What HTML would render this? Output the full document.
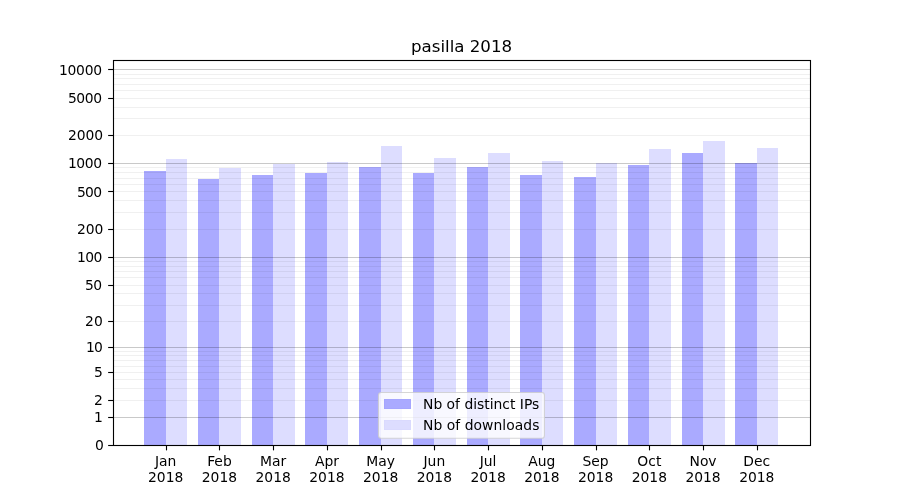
<!DOCTYPE html>
<html><head><meta charset="utf-8"><title>pasilla 2018</title>
<style>html,body{margin:0;padding:0;background:#fff;overflow:hidden}svg{display:block}</style></head>
<body>
<svg width="900" height="500" viewBox="0 0 900 500" font-family="DejaVu Sans, Liberation Sans, sans-serif">
<rect x="0" y="0" width="900" height="500" fill="#fff"/>
<rect x="144.00" y="171.00" width="22.00" height="274.00" fill="#0000ff" fill-opacity="0.335"/>
<rect x="166.00" y="159.00" width="21.00" height="286.00" fill="#0000ff" fill-opacity="0.135"/>
<rect x="198.00" y="179.00" width="21.00" height="266.00" fill="#0000ff" fill-opacity="0.335"/>
<rect x="219.00" y="168.00" width="22.00" height="277.00" fill="#0000ff" fill-opacity="0.135"/>
<rect x="252.00" y="175.00" width="21.00" height="270.00" fill="#0000ff" fill-opacity="0.335"/>
<rect x="273.00" y="164.00" width="22.00" height="281.00" fill="#0000ff" fill-opacity="0.135"/>
<rect x="305.00" y="173.00" width="22.00" height="272.00" fill="#0000ff" fill-opacity="0.335"/>
<rect x="327.00" y="162.00" width="21.00" height="283.00" fill="#0000ff" fill-opacity="0.135"/>
<rect x="359.00" y="167.00" width="22.00" height="278.00" fill="#0000ff" fill-opacity="0.335"/>
<rect x="381.00" y="146.00" width="21.00" height="299.00" fill="#0000ff" fill-opacity="0.135"/>
<rect x="413.00" y="173.00" width="21.00" height="272.00" fill="#0000ff" fill-opacity="0.335"/>
<rect x="434.00" y="158.00" width="22.00" height="287.00" fill="#0000ff" fill-opacity="0.135"/>
<rect x="467.00" y="167.00" width="21.00" height="278.00" fill="#0000ff" fill-opacity="0.335"/>
<rect x="488.00" y="153.00" width="22.00" height="292.00" fill="#0000ff" fill-opacity="0.135"/>
<rect x="520.00" y="175.00" width="22.00" height="270.00" fill="#0000ff" fill-opacity="0.335"/>
<rect x="542.00" y="161.00" width="21.00" height="284.00" fill="#0000ff" fill-opacity="0.135"/>
<rect x="574.00" y="177.00" width="22.00" height="268.00" fill="#0000ff" fill-opacity="0.335"/>
<rect x="596.00" y="163.00" width="21.00" height="282.00" fill="#0000ff" fill-opacity="0.135"/>
<rect x="628.00" y="165.00" width="21.00" height="280.00" fill="#0000ff" fill-opacity="0.335"/>
<rect x="649.00" y="149.00" width="22.00" height="296.00" fill="#0000ff" fill-opacity="0.135"/>
<rect x="682.00" y="153.00" width="21.00" height="292.00" fill="#0000ff" fill-opacity="0.335"/>
<rect x="703.00" y="141.00" width="22.00" height="304.00" fill="#0000ff" fill-opacity="0.135"/>
<rect x="735.00" y="163.00" width="22.00" height="282.00" fill="#0000ff" fill-opacity="0.335"/>
<rect x="757.00" y="148.00" width="21.00" height="297.00" fill="#0000ff" fill-opacity="0.135"/>
<line x1="113.5" x2="810.0" y1="400.50" y2="400.50" stroke="#000" stroke-opacity="0.06" stroke-width="1.1"/>
<line x1="113.5" x2="810.0" y1="388.50" y2="388.50" stroke="#000" stroke-opacity="0.06" stroke-width="1.1"/>
<line x1="113.5" x2="810.0" y1="379.50" y2="379.50" stroke="#000" stroke-opacity="0.06" stroke-width="1.1"/>
<line x1="113.5" x2="810.0" y1="372.50" y2="372.50" stroke="#000" stroke-opacity="0.06" stroke-width="1.1"/>
<line x1="113.5" x2="810.0" y1="366.50" y2="366.50" stroke="#000" stroke-opacity="0.06" stroke-width="1.1"/>
<line x1="113.5" x2="810.0" y1="360.50" y2="360.50" stroke="#000" stroke-opacity="0.06" stroke-width="1.1"/>
<line x1="113.5" x2="810.0" y1="355.50" y2="355.50" stroke="#000" stroke-opacity="0.06" stroke-width="1.1"/>
<line x1="113.5" x2="810.0" y1="351.50" y2="351.50" stroke="#000" stroke-opacity="0.06" stroke-width="1.1"/>
<line x1="113.5" x2="810.0" y1="321.50" y2="321.50" stroke="#000" stroke-opacity="0.06" stroke-width="1.1"/>
<line x1="113.5" x2="810.0" y1="305.50" y2="305.50" stroke="#000" stroke-opacity="0.06" stroke-width="1.1"/>
<line x1="113.5" x2="810.0" y1="293.50" y2="293.50" stroke="#000" stroke-opacity="0.06" stroke-width="1.1"/>
<line x1="113.5" x2="810.0" y1="285.50" y2="285.50" stroke="#000" stroke-opacity="0.06" stroke-width="1.1"/>
<line x1="113.5" x2="810.0" y1="277.50" y2="277.50" stroke="#000" stroke-opacity="0.06" stroke-width="1.1"/>
<line x1="113.5" x2="810.0" y1="271.50" y2="271.50" stroke="#000" stroke-opacity="0.06" stroke-width="1.1"/>
<line x1="113.5" x2="810.0" y1="266.50" y2="266.50" stroke="#000" stroke-opacity="0.06" stroke-width="1.1"/>
<line x1="113.5" x2="810.0" y1="261.50" y2="261.50" stroke="#000" stroke-opacity="0.06" stroke-width="1.1"/>
<line x1="113.5" x2="810.0" y1="229.50" y2="229.50" stroke="#000" stroke-opacity="0.06" stroke-width="1.1"/>
<line x1="113.5" x2="810.0" y1="212.50" y2="212.50" stroke="#000" stroke-opacity="0.06" stroke-width="1.1"/>
<line x1="113.5" x2="810.0" y1="200.50" y2="200.50" stroke="#000" stroke-opacity="0.06" stroke-width="1.1"/>
<line x1="113.5" x2="810.0" y1="191.50" y2="191.50" stroke="#000" stroke-opacity="0.06" stroke-width="1.1"/>
<line x1="113.5" x2="810.0" y1="184.50" y2="184.50" stroke="#000" stroke-opacity="0.06" stroke-width="1.1"/>
<line x1="113.5" x2="810.0" y1="178.50" y2="178.50" stroke="#000" stroke-opacity="0.06" stroke-width="1.1"/>
<line x1="113.5" x2="810.0" y1="172.50" y2="172.50" stroke="#000" stroke-opacity="0.06" stroke-width="1.1"/>
<line x1="113.5" x2="810.0" y1="167.50" y2="167.50" stroke="#000" stroke-opacity="0.06" stroke-width="1.1"/>
<line x1="113.5" x2="810.0" y1="135.50" y2="135.50" stroke="#000" stroke-opacity="0.06" stroke-width="1.1"/>
<line x1="113.5" x2="810.0" y1="118.50" y2="118.50" stroke="#000" stroke-opacity="0.06" stroke-width="1.1"/>
<line x1="113.5" x2="810.0" y1="107.50" y2="107.50" stroke="#000" stroke-opacity="0.06" stroke-width="1.1"/>
<line x1="113.5" x2="810.0" y1="98.50" y2="98.50" stroke="#000" stroke-opacity="0.06" stroke-width="1.1"/>
<line x1="113.5" x2="810.0" y1="90.50" y2="90.50" stroke="#000" stroke-opacity="0.06" stroke-width="1.1"/>
<line x1="113.5" x2="810.0" y1="84.50" y2="84.50" stroke="#000" stroke-opacity="0.06" stroke-width="1.1"/>
<line x1="113.5" x2="810.0" y1="78.50" y2="78.50" stroke="#000" stroke-opacity="0.06" stroke-width="1.1"/>
<line x1="113.5" x2="810.0" y1="74.50" y2="74.50" stroke="#000" stroke-opacity="0.06" stroke-width="1.1"/>
<line x1="113.5" x2="810.0" y1="417.50" y2="417.50" stroke="#000" stroke-opacity="0.21" stroke-width="1.1"/>
<line x1="113.5" x2="810.0" y1="347.50" y2="347.50" stroke="#000" stroke-opacity="0.21" stroke-width="1.1"/>
<line x1="113.5" x2="810.0" y1="257.50" y2="257.50" stroke="#000" stroke-opacity="0.21" stroke-width="1.1"/>
<line x1="113.5" x2="810.0" y1="163.50" y2="163.50" stroke="#000" stroke-opacity="0.21" stroke-width="1.1"/>
<line x1="113.5" x2="810.0" y1="69.50" y2="69.50" stroke="#000" stroke-opacity="0.21" stroke-width="1.1"/>
<rect x="113.5" y="60.5" width="697.0" height="385.0" fill="none" stroke="#000" stroke-width="1.11"/>
<line x1="108.14" x2="113.0" y1="445.50" y2="445.50" stroke="#000" stroke-width="1.11"/>
<text x="94.98" y="450.28" font-size="13.89" fill="#000">0</text>
<line x1="108.14" x2="113.0" y1="417.50" y2="417.50" stroke="#000" stroke-width="1.11"/>
<text x="94.08" y="422.00" font-size="13.89" fill="#000">1</text>
<line x1="108.14" x2="113.0" y1="400.50" y2="400.50" stroke="#000" stroke-width="1.11"/>
<text x="93.93" y="405.46" font-size="13.89" fill="#000">2</text>
<line x1="108.14" x2="113.0" y1="372.50" y2="372.50" stroke="#000" stroke-width="1.11"/>
<text x="94.09" y="377.18" font-size="13.89" fill="#000">5</text>
<line x1="108.14" x2="113.0" y1="347.50" y2="347.50" stroke="#000" stroke-width="1.11"/>
<text x="86.10 94.08" y="352.45" font-size="13.89" fill="#000">10</text>
<line x1="108.14" x2="113.0" y1="321.50" y2="321.50" stroke="#000" stroke-width="1.11"/>
<text x="84.95 94.08" y="326.07" font-size="13.89" fill="#000">20</text>
<line x1="108.14" x2="113.0" y1="285.50" y2="285.50" stroke="#000" stroke-width="1.11"/>
<text x="84.90 93.21" y="289.87" font-size="13.89" fill="#000">50</text>
<line x1="108.14" x2="113.0" y1="257.50" y2="257.50" stroke="#000" stroke-width="1.11"/>
<text x="77.10 85.26 93.41" y="261.99" font-size="13.89" fill="#000">100</text>
<line x1="108.14" x2="113.0" y1="229.50" y2="229.50" stroke="#000" stroke-width="1.11"/>
<text x="77.08 85.82 94.55" y="233.92" font-size="13.89" fill="#000">200</text>
<line x1="108.14" x2="113.0" y1="191.50" y2="191.50" stroke="#000" stroke-width="1.11"/>
<text x="76.90 85.06 93.21" y="196.66" font-size="13.89" fill="#000">500</text>
<line x1="108.14" x2="113.0" y1="163.50" y2="163.50" stroke="#000" stroke-width="1.11"/>
<text x="67.90 76.34 84.78 93.21" y="168.42" font-size="13.89" fill="#000">1000</text>
<line x1="108.14" x2="113.0" y1="135.50" y2="135.50" stroke="#000" stroke-width="1.11"/>
<text x="67.95 76.73 85.51 94.28" y="140.16" font-size="13.89" fill="#000">2000</text>
<line x1="108.14" x2="113.0" y1="98.50" y2="98.50" stroke="#000" stroke-width="1.11"/>
<text x="67.90 76.34 84.78 93.21" y="102.79" font-size="13.89" fill="#000">5000</text>
<line x1="108.14" x2="113.0" y1="69.50" y2="69.50" stroke="#000" stroke-width="1.11"/>
<text x="58.97 67.53 76.09 84.65 93.21" y="74.52" font-size="13.89" fill="#000">10000</text>
<line x1="166.50" x2="166.50" y1="445.5" y2="450.36" stroke="#000" stroke-width="1.11"/>
<text x="165.70" y="466.2" font-size="13.89" text-anchor="middle" fill="#000">Jan</text>
<text x="165.70" y="481.8" font-size="13.89" text-anchor="middle" fill="#000">2018</text>
<line x1="219.50" x2="219.50" y1="445.5" y2="450.36" stroke="#000" stroke-width="1.11"/>
<text x="219.44" y="466.2" font-size="13.89" text-anchor="middle" fill="#000">Feb</text>
<text x="219.44" y="481.8" font-size="13.89" text-anchor="middle" fill="#000">2018</text>
<line x1="273.50" x2="273.50" y1="445.5" y2="450.36" stroke="#000" stroke-width="1.11"/>
<text x="273.17" y="466.2" font-size="13.89" text-anchor="middle" fill="#000">Mar</text>
<text x="273.17" y="481.8" font-size="13.89" text-anchor="middle" fill="#000">2018</text>
<line x1="327.50" x2="327.50" y1="445.5" y2="450.36" stroke="#000" stroke-width="1.11"/>
<text x="326.91" y="466.2" font-size="13.89" text-anchor="middle" fill="#000">Apr</text>
<text x="326.91" y="481.8" font-size="13.89" text-anchor="middle" fill="#000">2018</text>
<line x1="381.50" x2="381.50" y1="445.5" y2="450.36" stroke="#000" stroke-width="1.11"/>
<text x="380.65" y="466.2" font-size="13.89" text-anchor="middle" fill="#000">May</text>
<text x="380.65" y="481.8" font-size="13.89" text-anchor="middle" fill="#000">2018</text>
<line x1="434.50" x2="434.50" y1="445.5" y2="450.36" stroke="#000" stroke-width="1.11"/>
<text x="434.38" y="466.2" font-size="13.89" text-anchor="middle" fill="#000">Jun</text>
<text x="434.38" y="481.8" font-size="13.89" text-anchor="middle" fill="#000">2018</text>
<line x1="488.50" x2="488.50" y1="445.5" y2="450.36" stroke="#000" stroke-width="1.11"/>
<text x="488.12" y="466.2" font-size="13.89" text-anchor="middle" fill="#000">Jul</text>
<text x="488.12" y="481.8" font-size="13.89" text-anchor="middle" fill="#000">2018</text>
<line x1="542.50" x2="542.50" y1="445.5" y2="450.36" stroke="#000" stroke-width="1.11"/>
<text x="541.85" y="466.2" font-size="13.89" text-anchor="middle" fill="#000">Aug</text>
<text x="541.85" y="481.8" font-size="13.89" text-anchor="middle" fill="#000">2018</text>
<line x1="596.50" x2="596.50" y1="445.5" y2="450.36" stroke="#000" stroke-width="1.11"/>
<text x="595.59" y="466.2" font-size="13.89" text-anchor="middle" fill="#000">Sep</text>
<text x="595.59" y="481.8" font-size="13.89" text-anchor="middle" fill="#000">2018</text>
<line x1="649.50" x2="649.50" y1="445.5" y2="450.36" stroke="#000" stroke-width="1.11"/>
<text x="649.33" y="466.2" font-size="13.89" text-anchor="middle" fill="#000">Oct</text>
<text x="649.33" y="481.8" font-size="13.89" text-anchor="middle" fill="#000">2018</text>
<line x1="703.50" x2="703.50" y1="445.5" y2="450.36" stroke="#000" stroke-width="1.11"/>
<text x="703.06" y="466.2" font-size="13.89" text-anchor="middle" fill="#000">Nov</text>
<text x="703.06" y="481.8" font-size="13.89" text-anchor="middle" fill="#000">2018</text>
<line x1="757.50" x2="757.50" y1="445.5" y2="450.36" stroke="#000" stroke-width="1.11"/>
<text x="756.80" y="466.2" font-size="13.89" text-anchor="middle" fill="#000">Dec</text>
<text x="756.80" y="481.8" font-size="13.89" text-anchor="middle" fill="#000">2018</text>
<text x="461.55" y="51.6" font-size="16.67" text-anchor="middle" fill="#000">pasilla 2018</text>
<rect x="378.45" y="392.5" width="166" height="45.8" rx="2.8" ry="2.8" fill="#fff" fill-opacity="0.8" stroke="#ccc" stroke-opacity="0.8" stroke-width="1.1"/>
<rect x="384" y="399" width="27" height="10" fill="#aaaaff"/>
<rect x="384.35" y="399.35" width="26.3" height="9.3" fill="none" stroke="#0000e0" stroke-opacity="0.04" stroke-width="0.7"/>
<rect x="384" y="420" width="27" height="10" fill="#ddddff"/>
<rect x="384.35" y="420.35" width="26.3" height="9.3" fill="none" stroke="#0000e0" stroke-opacity="0.02" stroke-width="0.7"/>
<text x="423" y="409" font-size="13.89" fill="#000">Nb of distinct IPs</text>
<text x="423" y="430.3" font-size="13.89" textLength="116.4" lengthAdjust="spacing" fill="#000">Nb of downloads</text>
</svg>
</body></html>
